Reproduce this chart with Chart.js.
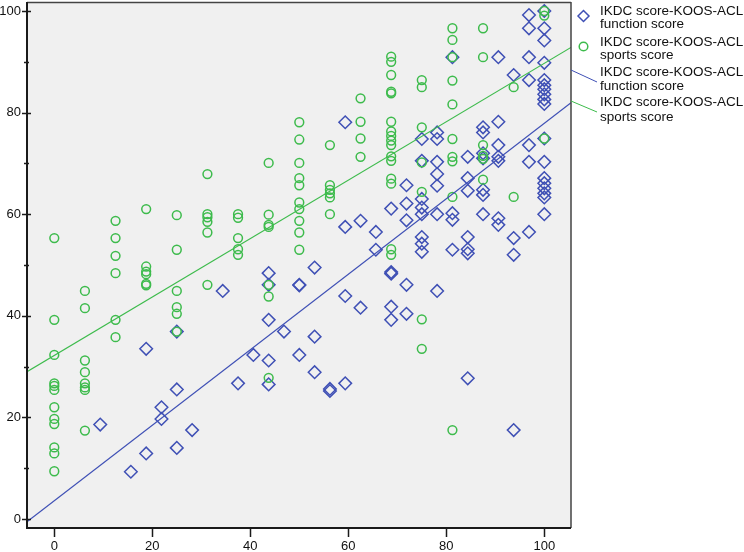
<!DOCTYPE html>
<html>
<head>
<meta charset="utf-8">
<script src="https://cdn.jsdelivr.net/npm/chart.js@4"></script>
<style>
html,body{margin:0;padding:0;background:#fff;}
canvas{display:block;}
</style>
</head>
<body>
<canvas id="c" width="744" height="552"></canvas>
<script>
// ---- data ----
const seriesNames = ['IKDC score-KOOS-ACL function score', 'IKDC score-KOOS-ACL sports score'];
const xTicks = [0, 20, 40, 60, 80, 100];
const yTicks = [0, 10, 20, 30, 40, 50, 60, 70, 80, 90, 100];
const yLabelTicks = [0, 20, 40, 60, 80, 100];

// function score (blue diamonds): x levels and the y values found at each level
const functionXLevels = [9.375, 15.625, 18.75, 21.875, 25, 28.125, 34.375, 37.5, 40.625, 43.75, 46.875, 50, 53.125, 56.25, 59.375, 62.5, 65.625, 68.75, 71.875, 75, 78.125, 81.25, 84.375, 87.5, 90.625, 93.75, 96.875, 100];
const functionYByLevel = [
  [18.6], [9.3], [33.5, 12.9], [22.0, 19.7], [36.9, 25.5, 14.0], [17.5], [44.9], [26.7], [32.3],
  [48.4, 46.1, 39.2, 31.2, 26.5], [36.9], [46.1, 46.0, 32.3], [49.5, 35.9, 28.9], [25.6, 25.2],
  [78.1, 57.5, 43.9, 26.7], [58.7, 41.6], [56.5, 53.0], [61.1, 48.6, 48.3, 41.8, 39.2],
  [65.7, 62.1, 58.8, 46.1, 40.4], [74.8, 70.5, 63.0, 61.3, 60.0, 55.5, 54.2, 52.6],
  [76.1, 74.8, 70.3, 67.9, 65.6, 60.0, 44.9], [90.9, 60.2, 58.9, 53.0],
  [71.3, 67.1, 64.6, 55.5, 53.1, 52.3, 27.7], [77.1, 76.1, 72.0, 71.0, 64.8, 63.8, 60.0],
  [90.9, 78.2, 73.6, 71.3, 70.5, 59.2, 57.9], [87.4, 55.3, 52.0, 17.5],
  [99.2, 96.6, 90.9, 86.4, 73.6, 70.3, 56.5],
  [100, 96.6, 94.2, 89.8, 86.4, 85.4, 84.6, 83.6, 82.6, 81.7, 74.9, 70.3, 67.1, 66.1, 65.1, 64.1, 63.3, 60.0]
];

// sports score (green circles)
const sportsXLevels = [0, 6.25, 12.5, 18.75, 25, 31.25, 37.5, 43.75, 50, 56.25, 62.5, 68.75, 75, 81.25, 87.5, 93.75, 100];
const sportsYByLevel = [
  [55.3, 39.2, 32.3, 26.7, 26.2, 25.4, 22.0, 19.7, 18.7, 14.1, 12.9, 9.4],
  [44.9, 41.5, 31.2, 28.9, 26.7, 25.9, 25.4, 17.4],
  [58.7, 55.3, 51.8, 48.4, 39.2, 35.8],
  [61.0, 49.7, 48.7, 48.2, 46.3, 46.0],
  [59.8, 53.0, 44.9, 41.7, 40.4, 36.9],
  [67.9, 60.0, 59.4, 58.5, 56.4, 46.1],
  [60.0, 59.3, 55.3, 53.1, 52.0],
  [70.1, 59.9, 57.9, 57.5, 46.1, 43.8, 27.8],
  [78.1, 74.7, 70.1, 67.1, 65.7, 62.3, 61.0, 58.7, 56.4, 53.0],
  [73.6, 65.7, 64.8, 64.1, 63.3, 60.0],
  [82.8, 78.2, 74.9, 71.3],
  [91.0, 90.0, 87.4, 84.1, 83.8, 78.2, 76.3, 75.4, 74.5, 73.6, 71.4, 70.5, 67.0, 66.0, 53.1, 52.0],
  [86.4, 85.0, 77.1, 70.2, 64.4, 39.3, 33.5],
  [96.6, 94.3, 90.9, 86.3, 81.6, 74.8, 71.3, 70.4, 63.4, 17.5],
  [96.6, 90.9, 73.6, 71.5, 70.9, 66.8],
  [85.0, 63.4],
  [100, 99.1, 74.9]
];

// fit lines (intercept, slope): [function, sports]
const fitIntercepts = [3.6, 32.2];
const fitSlopes = [0.743, 0.575];

// ---- styles / layout ----
const BLUE = '#3f50b5';
const GREEN = '#3dbb4c';
const X_MIN = -5.57, X_MAX = 105.45, Y_MIN = -1.77, Y_MAX = 101.77;

function toPoints(levels, byLevel) {
  const pts = [];
  levels.forEach((x, i) => byLevel[i].forEach(y => pts.push({x: x, y: y})));
  return pts;
}
function fitPoints(k) {
  return [X_MIN, X_MAX].map(x => ({x: x, y: fitIntercepts[k] + fitSlopes[k] * x}));
}

const bgPlugin = {
  id: 'bg',
  beforeDraw(chart) {
    const {ctx, chartArea: a} = chart;
    ctx.save();
    ctx.fillStyle = '#f0f0f0';
    ctx.fillRect(a.left, a.top, a.right - a.left, a.bottom - a.top);
    ctx.restore();
  },
  afterDraw(chart) {
    const {ctx, chartArea: a} = chart;
    const xs = chart.scales.x, ys = chart.scales.y;
    ctx.save();
    // frame
    ctx.strokeStyle = '#444';
    ctx.lineWidth = 1.5;
    ctx.beginPath();
    ctx.moveTo(a.left, a.top + 0.5); ctx.lineTo(a.right, a.top + 0.5);
    ctx.moveTo(a.right, a.top); ctx.lineTo(a.right, a.bottom);
    ctx.stroke();
    ctx.strokeStyle = '#1a1a1a';
    ctx.lineWidth = 2;
    ctx.beginPath();
    ctx.moveTo(a.left, a.top); ctx.lineTo(a.left, a.bottom + 1);
    ctx.moveTo(a.left - 1, a.bottom); ctx.lineTo(a.right, a.bottom);
    ctx.stroke();
    // tick marks
    ctx.lineWidth = 1.5;
    yTicks.forEach(v => {
      const p = Math.round(ys.getPixelForValue(v)) + 0.5;
      const major = yLabelTicks.includes(v);
      ctx.beginPath();
      ctx.moveTo(a.left - (major ? 5 : 3), p);
      ctx.lineTo(a.left + (major ? 4 : 2), p);
      ctx.stroke();
    });
    xTicks.forEach(v => {
      const p = Math.round(xs.getPixelForValue(v)) + 0.5;
      ctx.beginPath();
      ctx.moveTo(p, a.bottom);
      ctx.lineTo(p, a.bottom + 9);
      ctx.stroke();
    });
    // legend
    const lx = 600;
    ctx.font = '13.5px "Liberation Sans", Arial, sans-serif';
    ctx.fillStyle = '#111';
    ctx.textBaseline = 'middle';
    ctx.textAlign = 'left';
    const texts = [
      ['IKDC score-KOOS-ACL', 'function score', 11, 24],
      ['IKDC score-KOOS-ACL', 'sports score', 42, 55],
      ['IKDC score-KOOS-ACL', 'function score', 72, 86],
      ['IKDC score-KOOS-ACL', 'sports score', 102, 117]
    ];
    texts.forEach(t => { ctx.fillText(t[0], lx, t[2]); ctx.fillText(t[1], lx, t[3]); });
    // diamond
    ctx.strokeStyle = BLUE; ctx.lineWidth = 1.5;
    ctx.beginPath();
    ctx.moveTo(583.5 - 5.5, 16); ctx.lineTo(583.5, 10.5); ctx.lineTo(589, 16); ctx.lineTo(583.5, 21.5); ctx.closePath();
    ctx.stroke();
    // circle
    ctx.strokeStyle = GREEN;
    ctx.beginPath(); ctx.arc(583.5, 46.5, 4.3, 0, Math.PI * 2); ctx.stroke();
    // line symbols
    ctx.lineWidth = 1;
    ctx.strokeStyle = BLUE;
    ctx.beginPath(); ctx.moveTo(a.right, 70); ctx.lineTo(597, 82); ctx.stroke();
    ctx.strokeStyle = GREEN;
    ctx.beginPath(); ctx.moveTo(a.right, 101); ctx.lineTo(597, 112); ctx.stroke();
    ctx.restore();
  }
};

function noPad(s) { s.paddingTop = 0; s.paddingBottom = 0; s.paddingLeft = 0; s.paddingRight = 0; }

new Chart(document.getElementById('c'), {
  type: 'scatter',
  data: {
    datasets: [
      {
        label: seriesNames[0],
        data: toPoints(functionXLevels, functionYByLevel),
        pointStyle: 'rectRot', radius: 6.3, borderWidth: 1.5,
        borderColor: BLUE, backgroundColor: 'rgba(0,0,0,0)', order: 3
      },
      {
        label: seriesNames[1],
        data: toPoints(sportsXLevels, sportsYByLevel),
        pointStyle: 'circle', radius: 4.4, borderWidth: 1.5,
        borderColor: GREEN, backgroundColor: 'rgba(0,0,0,0)', order: 2
      },
      {
        type: 'line', label: seriesNames[0] + ' fit', data: fitPoints(0),
        borderColor: BLUE, borderWidth: 1.2, pointRadius: 0, fill: false, order: 1
      },
      {
        type: 'line', label: seriesNames[1] + ' fit', data: fitPoints(1),
        borderColor: GREEN, borderWidth: 1.2, pointRadius: 0, fill: false, order: 1
      }
    ]
  },
  options: {
    responsive: false,
    animation: false,
    layout: {autoPadding: false, padding: {left: 0, right: 173, top: 2, bottom: 0}},
    plugins: {legend: {display: false}, tooltip: {enabled: false}},
    scales: {
      x: {
        type: 'linear', min: X_MIN, max: X_MAX,
        afterBuildTicks: s => { s.ticks = xTicks.map(v => ({value: v})); },
        afterFit: s => { s.height = 24; noPad(s); },
        grid: {display: false, drawTicks: false},
        border: {display: false},
        ticks: {color: '#111', font: {family: '"Liberation Sans", Arial, sans-serif', size: 13}, padding: 11, maxRotation: 0}
      },
      y: {
        type: 'linear', min: Y_MIN, max: Y_MAX,
        afterBuildTicks: s => { s.ticks = yTicks.map(v => ({value: v})); },
        afterFit: s => { s.width = 27; noPad(s); },
        grid: {display: false, drawTicks: false},
        border: {display: false},
        ticks: {
          color: '#111', font: {family: '"Liberation Sans", Arial, sans-serif', size: 13}, padding: 6,
          callback: v => yLabelTicks.includes(v) ? String(v) : ''
        }
      }
    }
  },
  plugins: [bgPlugin]
});
</script>
</body>
</html>
